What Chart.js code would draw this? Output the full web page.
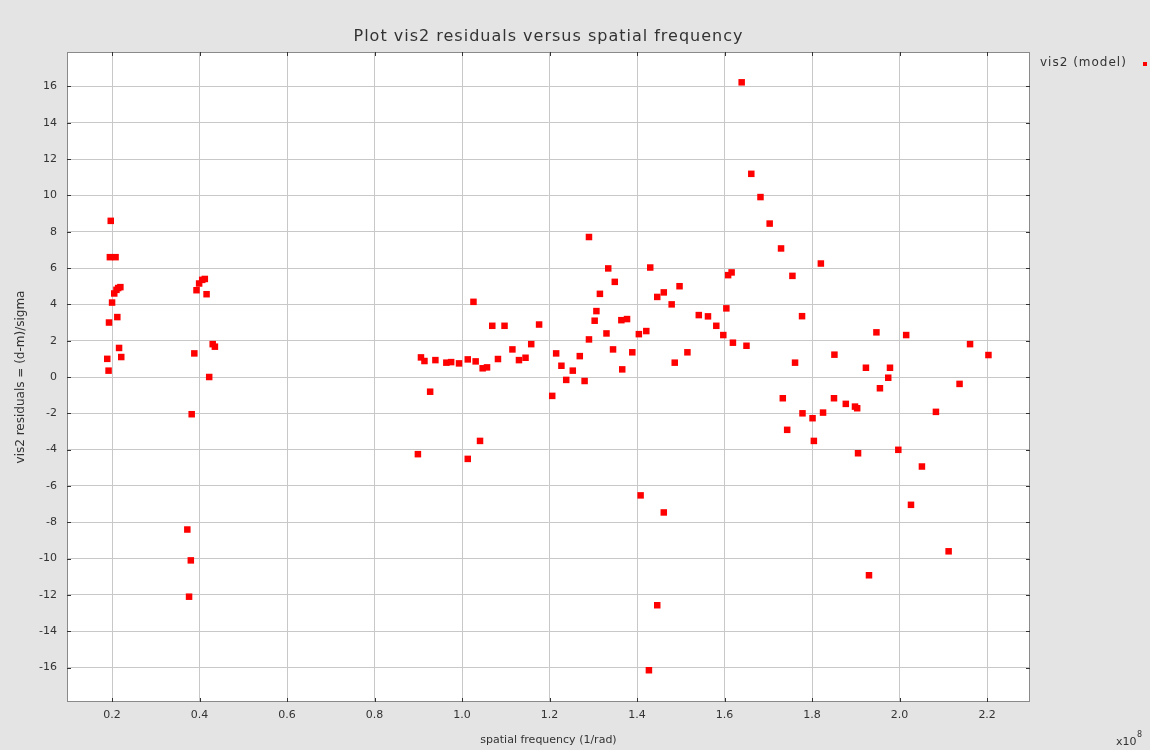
<!DOCTYPE html>
<html>
<head>
<meta charset="utf-8">
<title>vis2 residuals versus spatial frequency</title>
<script src="https://cdn.jsdelivr.net/npm/chart.js@4.4.1/dist/chart.umd.min.js"></script>
<style>
  html, body { margin: 0; padding: 0; background: #e4e4e4; }
  #wrap { width: 1150px; height: 750px; }
</style>
</head>
<body>
<div id="wrap"><canvas id="residChart" width="1150" height="750"></canvas></div>
<script>
  'use strict';

  // Spatial frequency, in units of 1e8 / rad
  const spatialFreq = [
    0.197, 0.195, 0.208, 0.214, 0.219, 0.210, 0.205, 0.200, 0.212, 0.193, 0.216, 0.221, 0.189, 0.192,
    0.406, 0.412, 0.399, 0.393, 0.416, 0.430, 0.435, 0.388, 0.422, 0.382, 0.372, 0.380, 0.376,
    0.899, 0.906, 0.914, 0.927, 0.939, 0.964, 0.975, 0.993, 1.013, 1.013, 1.026, 1.031, 1.041,
    1.047, 1.057, 1.069, 1.082, 1.097, 1.115, 1.130, 1.145, 1.158, 1.176,
    1.206, 1.215, 1.227, 1.238, 1.253, 1.269, 1.280, 1.290, 1.290, 1.303, 1.307, 1.315,
    1.330, 1.334, 1.345, 1.349, 1.364, 1.366, 1.377, 1.389, 1.404, 1.408, 1.421, 1.427,
    1.430, 1.446, 1.446, 1.461, 1.461, 1.479, 1.486, 1.497, 1.515, 1.541, 1.562, 1.581,
    1.597, 1.604, 1.608, 1.616, 1.619, 1.639, 1.650, 1.661, 1.682, 1.703, 1.729, 1.733,
    1.743, 1.755, 1.761, 1.777, 1.778, 1.801, 1.804, 1.820, 1.825, 1.850, 1.851, 1.877,
    1.898, 1.903, 1.905, 1.923, 1.930, 1.947, 1.955, 1.974, 1.978, 1.997, 2.015, 2.026,
    2.051, 2.083, 2.112, 2.137, 2.161, 2.203
  ];

  // (data - model) / sigma for each point above
  const vis2Residuals = [
    8.6, 6.6, 6.6, 4.9, 4.95, 4.8, 4.6, 4.1, 3.3, 3.0, 1.6, 1.1, 1.0, 0.35,
    5.35, 5.4, 5.15, 4.78, 4.56, 1.81, 1.67, 1.3, 0.0, -2.05, -8.4, -10.1, -12.1,
    -4.25, 1.08, 0.88, -0.81, 0.93, 0.79, 0.82, 0.75, 0.97, -4.51, 4.14, 0.86, -3.52,
    0.48, 0.53, 2.82, 0.99, 2.82, 1.52, 0.93, 1.06, 1.81, 2.89,
    -1.04, 1.3, 0.62, -0.16, 0.35, 1.15, -0.22, 2.07, 7.71, 3.1, 3.63, 4.58,
    2.4, 5.98, 1.52, 5.24, 3.13, 0.42, 3.19, 1.36, 2.36, -6.52, 2.53, -16.15,
    6.03, 4.41, -12.57, 4.66, -7.46, 4.0, 0.79, 5.0, 1.36, 3.41, 3.34, 2.82,
    2.31, 3.78, 5.61, 5.76, 1.89, 16.23, 1.72, 11.19, 9.91, 8.45, 7.08, -1.17,
    -2.91, 5.57, 0.79, 3.35, -2.0, -2.27, -3.52, 6.25, -1.96, -1.17, 1.23, -1.48,
    -1.63, -1.72, -4.2, 0.51, -10.92, 2.46, -0.62, -0.04, 0.51, -4.01, 2.31, -7.04,
    -4.93, -1.92, -9.6, -0.38, 1.81, 1.21
  ];

  const xTickValues = [0.2, 0.4, 0.6, 0.8, 1.0, 1.2, 1.4, 1.6, 1.8, 2.0, 2.2];
  const yTickValues = [-16, -14, -12, -10, -8, -6, -4, -2, 0, 2, 4, 6, 8, 10, 12, 14, 16];

  const seriesLabel = 'vis2 (model)';
  const plotTitle = 'Plot vis2 residuals versus spatial frequency';

  const FONT = "'DejaVu Sans', sans-serif";
  const BG = '#e4e4e4';

  /**
   * Paints the grey page, the white plot box, the frame with inward ticks,
   * the title, the legend entry and the x10^8 exponent.
   */
  const framePlugin = {
    id: 'frame',
    beforeDraw(chart) {
      const { ctx, chartArea: a } = chart;
      ctx.save();
      ctx.fillStyle = BG;
      ctx.fillRect(0, 0, chart.width, chart.height);
      ctx.fillStyle = '#ffffff';
      ctx.fillRect(a.left, a.top, a.right - a.left, a.bottom - a.top);
      ctx.restore();
    },
    afterDraw(chart) {
      const { ctx, chartArea: a, scales } = chart;
      ctx.save();

      // frame
      ctx.strokeStyle = '#8a8a8a';
      ctx.lineWidth = 1;
      ctx.strokeRect(Math.round(a.left) + 0.5, Math.round(a.top) + 0.5,
        Math.round(a.right - a.left) - 1, Math.round(a.bottom - a.top) - 1);

      // inward tick marks on all four sides
      ctx.strokeStyle = '#333333';
      ctx.beginPath();
      xTickValues.forEach((v) => {
        const px = Math.round(scales.x.getPixelForValue(v)) + 0.5;
        ctx.moveTo(px, a.top); ctx.lineTo(px, a.top + 4);
        ctx.moveTo(px, a.bottom); ctx.lineTo(px, a.bottom - 4);
      });
      yTickValues.forEach((v) => {
        const py = Math.round(scales.y.getPixelForValue(v)) + 0.5;
        ctx.moveTo(a.left, py); ctx.lineTo(a.left + 4, py);
        ctx.moveTo(a.right, py); ctx.lineTo(a.right - 4, py);
      });
      ctx.stroke();

      // title
      ctx.fillStyle = '#333333';
      ctx.letterSpacing = '1px';
      ctx.font = '16px ' + FONT;
      ctx.textAlign = 'center';
      ctx.textBaseline = 'middle';
      ctx.fillText(plotTitle, (a.left + a.right) / 2, 37);

      // legend entry
      ctx.font = '12px ' + FONT;
      ctx.textAlign = 'left';
      ctx.fillText(seriesLabel, a.right + 10, 63);
      ctx.letterSpacing = '0px';
      ctx.fillStyle = '#ff0000';
      ctx.fillRect(1143, 62, 4, 4);

      // exponent of the x axis
      ctx.fillStyle = '#333333';
      ctx.font = '11px ' + FONT;
      ctx.fillText('x10', 1116, 742);
      ctx.font = '8px ' + FONT;
      ctx.fillText('8', 1137, 735);

      ctx.restore();
    }
  };

  const points = spatialFreq.map((x, i) => ({ x: x, y: vis2Residuals[i] }));

  const gridOpts = {
    color: '#c8c8c8',
    lineWidth: 1,
    drawTicks: false
  };

  new Chart(document.getElementById('residChart'), {
    type: 'scatter',
    data: {
      datasets: [{
        label: seriesLabel,
        data: points,
        pointStyle: 'rect',
        pointRadius: 4.6,
        pointHoverRadius: 4.6,
        backgroundColor: '#ff0000',
        borderWidth: 0
      }]
    },
    options: {
      responsive: false,
      animation: false,
      events: [],
      layout: { padding: { top: 52, right: 120, left: 0, bottom: 0 } },
      plugins: {
        legend: { display: false },
        tooltip: { enabled: false },
        title: { display: false }
      },
      scales: {
        x: {
          type: 'linear',
          min: 0.097,
          max: 2.298,
          afterBuildTicks: (s) => { s.ticks = xTickValues.map((v) => ({ value: v })); },
          afterFit: (s) => { s.height = 48; },
          grid: gridOpts,
          border: { display: false },
          ticks: {
            padding: 7,
            color: '#333333',
            font: { family: FONT, size: 11 },
            callback: (v) => Number(v).toFixed(1)
          },
          title: {
            display: true,
            text: 'spatial frequency (1/rad)',
            color: '#333333',
            font: { family: FONT, size: 11 },
            padding: { top: 0, bottom: 3 }
          }
        },
        y: {
          type: 'linear',
          min: -17.9,
          max: 17.9,
          afterBuildTicks: (s) => { s.ticks = yTickValues.map((v) => ({ value: v })); },
          afterFit: (s) => { s.width = 67; },
          grid: gridOpts,
          border: { display: false },
          ticks: {
            padding: 10,
            color: '#333333',
            font: { family: FONT, size: 11 },
            callback: (v) => String(v)
          },
          title: {
            display: true,
            text: 'vis2 residuals = (d-m)/sigma',
            color: '#333333',
            font: { family: FONT, size: 12 },
            padding: { top: 14, bottom: 0 }
          }
        }
      }
    },
    plugins: [framePlugin]
  });
</script>
</body>
</html>
